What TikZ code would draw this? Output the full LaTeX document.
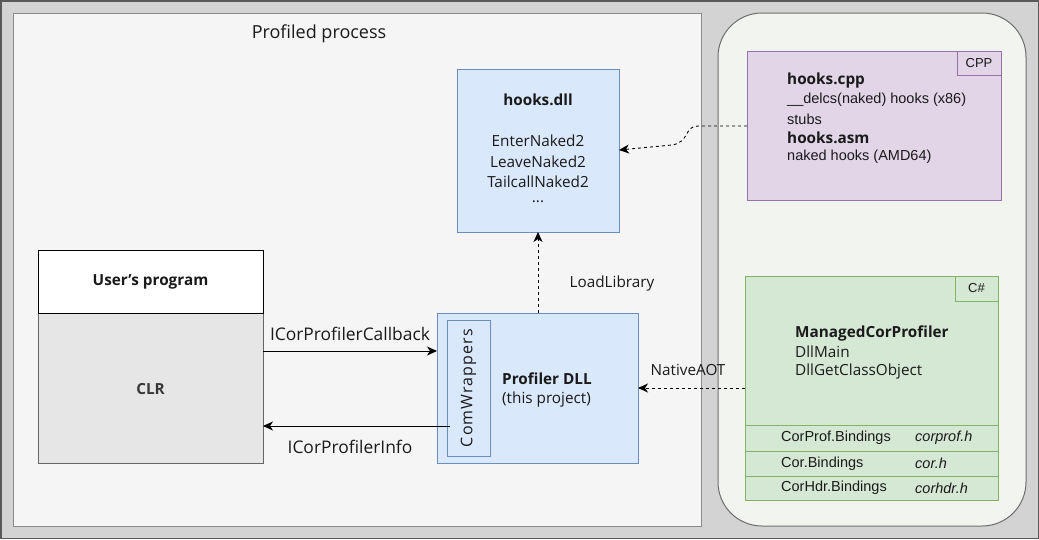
\documentclass[tikz,border=0pt]{standalone}
\usepackage{fontspec}
\setmainfont{Open Sans}
\newfontfamily\arialf{Liberation Sans}
\usetikzlibrary{arrows.meta}
\definecolor{outerfill}{HTML}{D3D3D3}
\definecolor{outerline}{HTML}{5A5A5A}
\definecolor{procfill}{HTML}{F5F5F5}
\definecolor{procline}{HTML}{8A8A8A}
\definecolor{rightfill}{HTML}{F2F4EF}
\definecolor{rightline}{HTML}{6E6E6E}
\definecolor{bluefill}{HTML}{DAE8FC}
\definecolor{blueline}{HTML}{6C8EBF}
\definecolor{purpfill}{HTML}{E1D5E7}
\definecolor{purpline}{HTML}{9673A6}
\definecolor{grnfill}{HTML}{D5E8D4}
\definecolor{grnline}{HTML}{82B366}
\definecolor{clrfill}{HTML}{E6E6E6}
\definecolor{clrline}{HTML}{666666}
\definecolor{txtc}{HTML}{1A1A1A}
\begin{document}
\begin{tikzpicture}[x=1pt,y=-1pt,
  box/.style={draw, line width=1pt, inner sep=0pt, outer sep=0pt},
  bluebox/.style={box, draw=blueline, fill=bluefill},
  t/.style={inner sep=0pt, text=txtc, font=\fontsize{15.3}{17}\selectfont},
  tb/.style={t, font=\fontsize{15.3}{17}\selectfont\bfseries},
  ta/.style={inner sep=0pt, text=txtc, font=\arialf\fontsize{14.5}{16}\selectfont},
  tai/.style={ta, font=\arialf\itshape\fontsize{14.5}{16}\selectfont},
  tl/.style={inner sep=0pt, text=txtc, font=\arialf\fontsize{13}{15}\selectfont},
  te/.style={t, font=\fontsize{17.4}{19}\selectfont},
  arr/.style={-{Stealth[length=10pt,width=9pt,inset=3pt]}, line width=0.9pt},
  dasharr/.style={arr, dash pattern=on 3pt off 3pt}
]
\useasboundingbox (0,0) rectangle (1039,539);
% background
\fill[outerfill] (0,0) rectangle (1039,539);
\draw[outerline, line width=1.5pt] (0.75,0.75) rectangle (1038.25,538.25);
% process box
\node[box, draw=procline, fill=procfill, minimum width=688, minimum height=513, anchor=north west] (proc) at (13,13) {};
\node[t, font=\fontsize{18}{20}\selectfont] (proct) at (319,34) {Profiled process};
% right rounded box
\node[box, draw=rightline, fill=rightfill, rounded corners=44pt, minimum width=308, minimum height=513, anchor=north west] (side) at (718,13) {};

% hooks.dll
\node[bluebox, minimum width=162, minimum height=163, anchor=north west] (hooks) at (457,69) {};
\node[tb] (hooksT) at (538,100) {hooks.dll};
\node[t] (h1) at (538,141) {EnterNaked2};
\node[t] (h2) at (538,162) {LeaveNaked2};
\node[t] (h3) at (538,182) {TailcallNaked2};
\node[t] (h4) at (538,202) {...};

% CPP box
\node[box, draw=purpline, fill=purpfill, minimum width=254, minimum height=149, anchor=north west] (cpp) at (747,51) {};
\node[box, draw=purpline, fill=purpfill, minimum width=44, minimum height=24, anchor=north east] (cppL) at (cpp.north east) {};
\node[tl] at (cppL.center) {CPP};
\node[tb, anchor=west] (c1) at (787,81) {hooks.cpp};
\node[ta, anchor=west] (c2) at (787,100) {\_\_delcs(naked) hooks (x86)};
\node[ta, anchor=west] (c3) at (787,119) {stubs};
\node[tb, anchor=west] (c4) at (787,138) {hooks.asm};
\node[ta, anchor=west] (c5) at (787,157) {naked hooks (AMD64)};

% C# box
\node[box, draw=grnline, fill=grnfill, minimum width=253, minimum height=224, anchor=north west] (cs) at (745,276) {};
\node[box, draw=grnline, fill=grnfill, minimum width=43, minimum height=25, anchor=north east] (csL) at (cs.north east) {};
\node[tl] at (csL.center) {C\#};
\node[tb, anchor=west] (m1) at (795,333) {ManagedCorProfiler};
\node[t, anchor=west] (m2) at (795,352) {DllMain};
\node[t, anchor=west] (m3) at (795,372) {DllGetClassObject};
\node[box, draw=grnline, fill=grnfill, minimum width=253, minimum height=26, anchor=north west] (r1) at (745,425) {};
\node[box, draw=grnline, fill=grnfill, minimum width=253, minimum height=25, anchor=north west] (r2) at (745,451) {};
\node[box, draw=grnline, fill=grnfill, minimum width=253, minimum height=24, anchor=north west] (r3) at (745,476) {};
\node[ta, anchor=west] at (781,438) {CorProf.Bindings};
\node[tai, anchor=west] at (915,438) {corprof.h};
\node[ta, anchor=west] at (781,463.5) {Cor.Bindings};
\node[tai, anchor=west] at (915,463.5) {cor.h};
\node[ta, anchor=west] at (781,488) {CorHdr.Bindings};
\node[tai, anchor=west] at (915,488) {corhdr.h};

% User's program / CLR
\node[box, draw=clrline, fill=clrfill, minimum width=225, minimum height=213, anchor=north west] (clr) at (38,250) {};
\node[box, draw=black, fill=white, minimum width=225, minimum height=63, anchor=north west] (user) at (38,250) {};
\node[tb] at (150.5,282) {User's program};
\node[tb, text=black!78] at (150.5,389) {CLR};

% Profiler DLL
\node[bluebox, minimum width=201, minimum height=150, anchor=north west] (pdll) at (437,313) {};
\node[bluebox, minimum width=43, minimum height=136, anchor=north west] (cw) at (447,320) {};
\node[t, rotate=90, font=\fontsize{16}{18}\selectfont\addfontfeature{LetterSpace=7}] at (cw.center) {ComWrappers};
\node[tb, anchor=west] (p1) at (502,379) {Profiler DLL};
\node[t, anchor=west] (p2) at (502,400) {(this project)};

% connectors
\coordinate (cbS) at (263,351);
\draw[arr] (cbS) -- (pdll.west |- cbS);
\node[te] at (350,334) {ICorProfilerCallback};
\coordinate (ciS) at (450,426);
\draw[arr] (ciS) -- (clr.east |- ciS);
\node[te] at (350,447) {ICorProfilerInfo};
\draw[dasharr] (pdll.north -| hooks.south) -- (hooks.south);
\node[t] at (612,284) {LoadLibrary};
\coordinate (naS) at (745,388);
\draw[dasharr] (cs.west |- naS) -- (pdll.east |- naS);
\node[t] at (688,370) {NativeAOT};
\coordinate (cpS) at (747,126);
\coordinate (cpE) at (619,150);
\draw[dasharr] (cpS) -- (698,126) .. controls (684,126) and (690,142) .. (672,145) -- (cpE);
\end{tikzpicture}
\end{document}
